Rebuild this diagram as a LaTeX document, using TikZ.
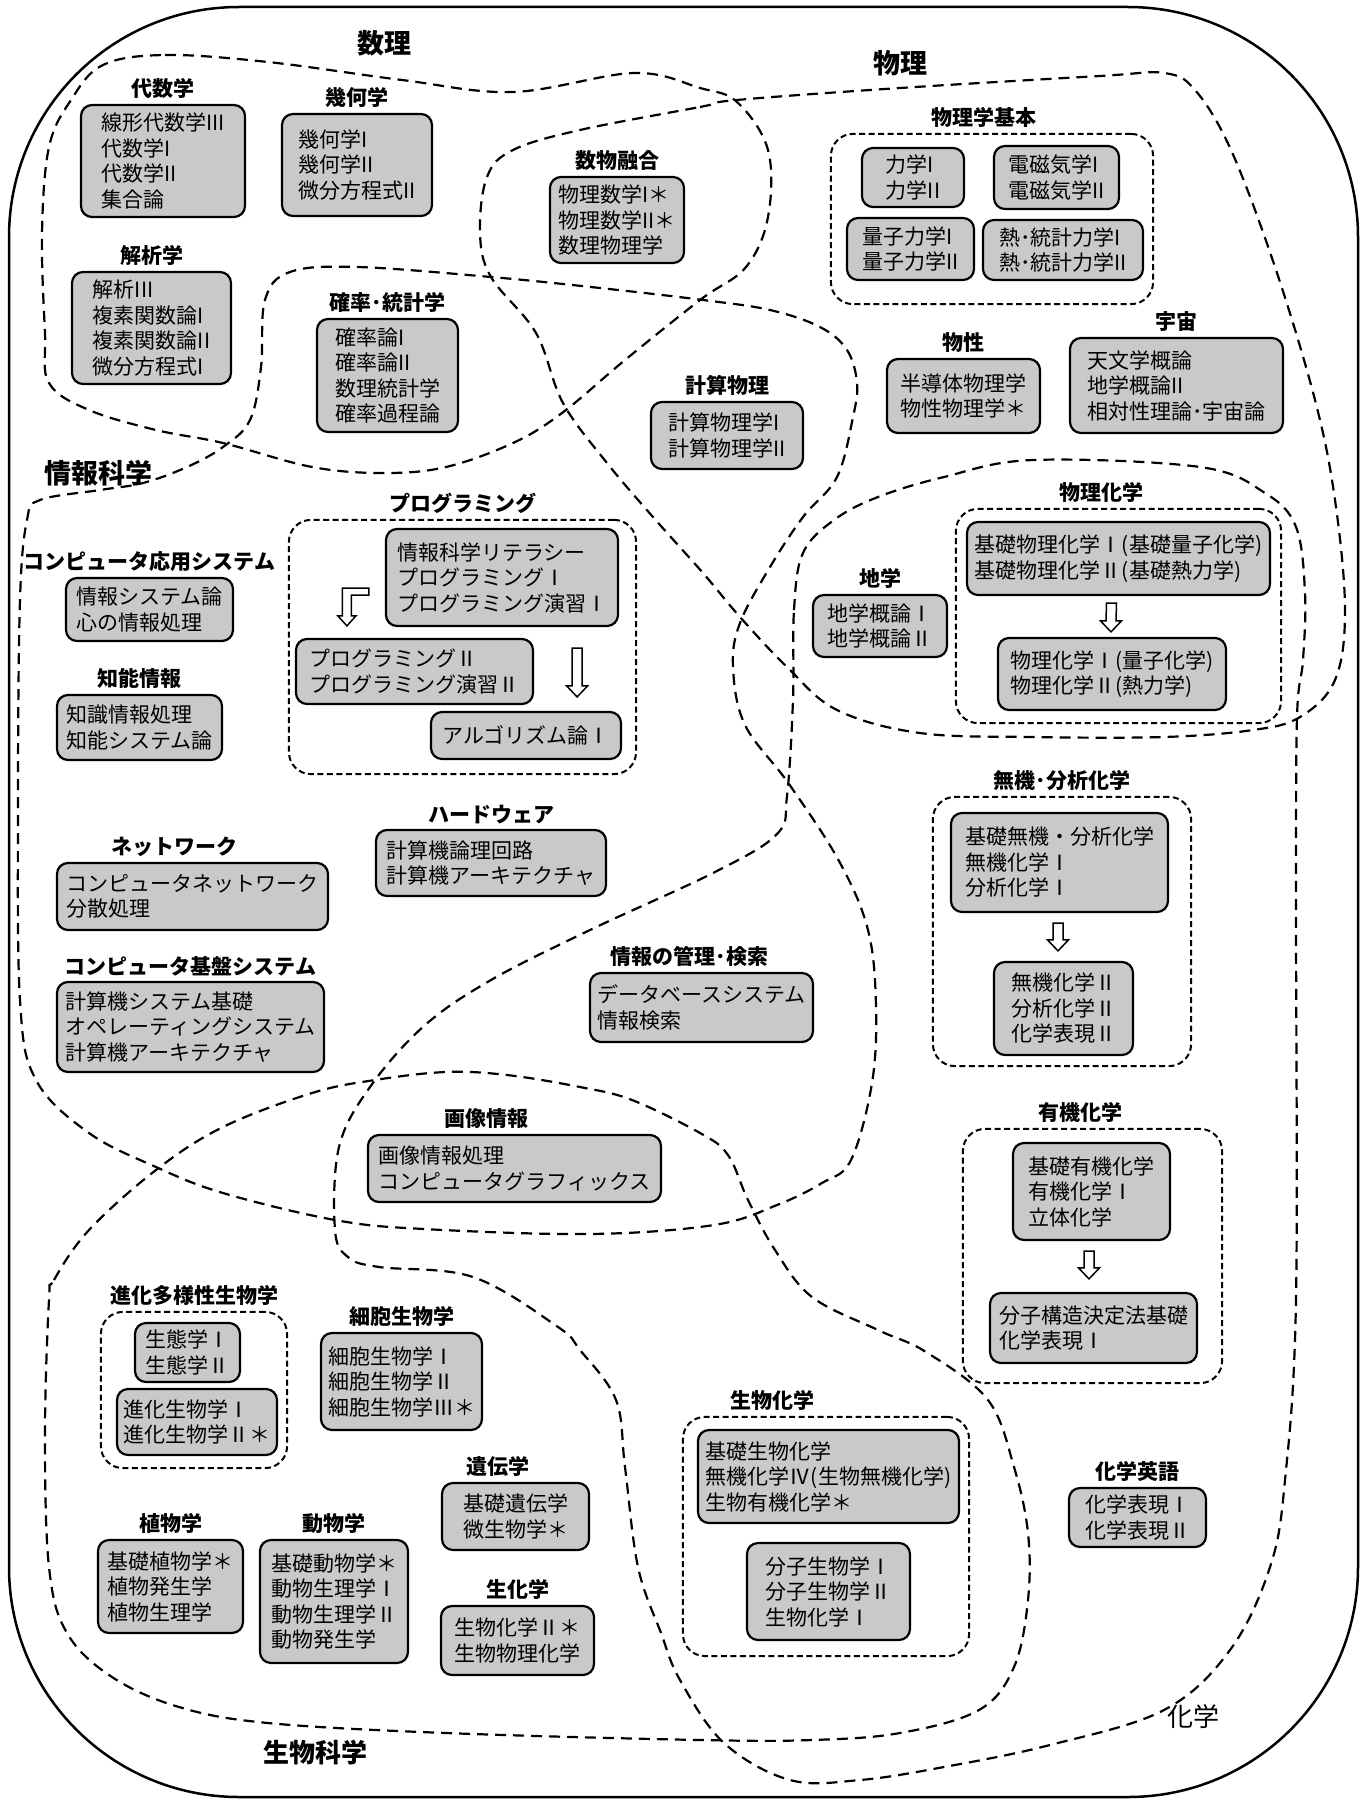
\documentclass[tikz,border=0pt]{standalone}
\usepackage{fontspec}
\setmainfont{Noto Sans CJK JP}
\usetikzlibrary{positioning, fit, backgrounds, calc}
\definecolor{boxgray}{RGB}{200, 201, 203}

\begin{document}
\begin{tikzpicture}[
    x=1pt, y=-1pt,
    label distance=5pt,
    coursebox/.style={
        draw=black, line width=2.2pt, fill=boxgray, rounded corners=11pt,
        align=left, inner sep=4pt,
        font=\fontsize{21}{25.5}\selectfont
    },
    catlabel/.style={font=\fontsize{21}{24}\selectfont\bfseries, inner sep=0pt},
    fieldlabel/.style={font=\fontsize{27}{30}\selectfont\bfseries, inner sep=0pt},
    groupbox/.style={draw=black, line width=2pt, dash pattern=on 6pt off 3.5pt, rounded corners=22pt},
    region/.style={draw=black, line width=2.2pt, dash pattern=on 11pt off 7pt},
    hollowdown/.style={
        draw=black, fill=white, line width=1.5pt,
        to path={($(\tikztostart)+(-5,0)$) -- ($(\tikztotarget)+(-5,-11)$) -- ($(\tikztotarget)+(-10.5,-11)$)
            -- (\tikztotarget) -- ($(\tikztotarget)+(10.5,-11)$) -- ($(\tikztotarget)+(5,-11)$)
            -- ($(\tikztostart)+(5,0)$) -- cycle}
    },
    hollowbend/.style={
        draw=black, fill=white, line width=1.5pt,
        to path={($(\tikztostart)+(0,-3.5)$) -- ($(\tikztotarget |- \tikztostart)+(-4.5,-3.5)$)
            -- ($(\tikztotarget)+(-4.5,-10)$) -- ($(\tikztotarget)+(-9,-10)$) -- (\tikztotarget)
            -- ($(\tikztotarget)+(9,-10)$) -- ($(\tikztotarget)+(4.5,-10)$)
            -- ($(\tikztotarget |- \tikztostart)+(4.5,3.5)$) -- ($(\tikztostart)+(0,3.5)$) -- cycle}
    }
]
\useasboundingbox (0,0) rectangle (1364,1801);

% OUTER FRAME
\draw[line width=2.5pt, rounded corners=230pt] (9,7) rectangle (1358,1797);

% FIELD REGIONS
\draw[region] plot[smooth cycle, tension=0.6] coordinates {
    (103,65) (165,55) (268,62) (402,80) (513,92) (634,73) (700,88) (737,102) (768,150) (768,217)
    (746,267) (700,300) (625,360) (562,413) (513,443) (446,467) (384,473) (312,467) (223,443)
    (156,430) (89,410) (49,383) (45,333) (42,233) (49,147) (71,100)};
\draw[region] plot[smooth cycle, tension=0.6] coordinates {
    (580,130) (700,107) (737,100) (900,88) (1100,76) (1164,73) (1195,90) (1231,150) (1275,267)
    (1315,400) (1335,500) (1345,610) (1335,680) (1300,717) (1253,730) (1164,737) (1032,737)
    (920,733) (837,710) (787,667) (740,617) (703,573) (653,517) (607,463) (563,403) (536,333)
    (491,277) (480,233) (487,177) (513,150)};
\draw[region] plot[smooth cycle, tension=0.6] coordinates {
    (20,600) (27,520) (40,500) (100,490) (143,483) (187,467) (223,447) (250,420) (261,367)
    (265,300) (290,272) (357,267) (491,277) (600,288) (703,300) (770,310) (820,327) (847,350)
    (857,383) (853,417) (837,477) (803,517) (770,567) (740,623) (733,667) (745,725) (789,784)
    (839,861) (868,930) (876,1006) (872,1083) (851,1160) (822,1183) (777,1205) (714,1225)
    (590,1234) (424,1229) (335,1220) (223,1193) (156,1167) (89,1133) (36,1080) (20,1000) (18,800)};
\draw[region] plot[smooth cycle, tension=0.6] coordinates {
    (793,700) (794,610) (803,553) (834,520) (878,497) (944,477) (1033,460) (1200,467) (1265,493)
    (1296,527) (1305,593) (1303,660) (1297,717) (1296,900) (1296,1300) (1285,1480) (1270,1567)
    (1230,1650) (1164,1710) (1050,1745) (944,1767) (860,1780) (790,1780) (724,1743) (680,1680)
    (661,1633) (638,1567) (625,1467) (616,1400) (580,1350) (558,1327) (473,1277) (379,1267)
    (348,1257) (335,1230) (339,1147) (370,1087) (424,1026) (491,980) (590,930) (715,872)
    (777,834) (787,796)};
\draw[region] plot[smooth cycle, tension=0.6] coordinates {
    (49,1300) (54,1280) (89,1230) (156,1170) (223,1127) (312,1093) (375,1080) (446,1072)
    (507,1075) (580,1087) (632,1100) (700,1133) (728,1155) (748,1200) (775,1250) (812,1297)
    (878,1330) (926,1352) (988,1400) (1014,1467) (1028,1533) (1028,1600) (1014,1667) (979,1710)
    (900,1733) (812,1740) (700,1740) (446,1733) (268,1723) (179,1707) (112,1677) (67,1633)
    (49,1567) (45,1433)};

% FIELD LABELS
\node[fieldlabel] at (384,43) (mathlbl) {数理};
\node[fieldlabel] at (900,63) (physlbl) {物理};
\node[fieldlabel] at (98,473) (infolbl) {情報科学};
\node[fieldlabel, font=\fontsize{26}{30}\selectfont\bfseries] at (315,1753) (biolbl) {生物科学};
\node[fieldlabel, font=\fontsize{26}{30}\selectfont] at (1193,1717) (chemlbl) {化学};

% MATH BOXES
\node[coursebox, minimum width=164pt, minimum height=112pt, label={[catlabel]above:代数学}] at (163,161) (algbox) {
    線形代数学III\\代数学I\\代数学II\\集合論};
\node[coursebox, minimum width=150pt, minimum height=102pt, label={[catlabel]above:幾何学}] at (357,165) (geombox) {
    幾何学I\\幾何学II\\微分方程式II};
\node[coursebox, minimum width=134pt, minimum height=86pt, label={[catlabel]above:数物融合}] at (617,220) (fusebox) {
    物理数学I＊\\物理数学II＊\\数理物理学};
\node[coursebox, minimum width=159pt, minimum height=112pt, label={[catlabel]above:解析学}] at (151.5,328) (anabox) {
    解析III\\複素関数論I\\複素関数論II\\微分方程式I};
\node[coursebox, minimum width=141pt, minimum height=113pt, label={[catlabel]above:確率･統計学}] at (387.5,375.5) (probbox) {
    確率論I\\確率論II\\数理統計学\\確率過程論};

% PHYSICS BOXES
\node[coursebox, minimum width=102pt, minimum height=59pt] at (913,177.5) (mechbox) {力学I\\力学II};
\node[coursebox, minimum width=125pt, minimum height=63pt] at (1056.5,177.5) (embox) {電磁気学I\\電磁気学II};
\node[coursebox, minimum width=127pt, minimum height=62pt] at (910.5,249) (qmbox) {量子力学I\\量子力学II};
\node[coursebox, minimum width=160pt, minimum height=60pt] at (1063,250) (thermbox) {熱･統計力学I\\熱･統計力学II};
\node[coursebox, minimum width=213pt, minimum height=95pt, label={[catlabel]above:宇宙}] at (1176.5,385.5) (cosmobox) {
    天文学概論\\地学概論II\\相対性理論･宇宙論};
\node[coursebox, minimum width=153pt, minimum height=74pt, label={[catlabel]above:物性}] at (963.5,396) (condbox) {
    半導体物理学\\物性物理学＊};
\node[coursebox, minimum width=152pt, minimum height=67pt, label={[catlabel]above:計算物理}] at (727,435.5) (compbox) {
    計算物理学I\\計算物理学II};

% INFORMATICS BOXES
\node[coursebox, minimum width=232pt, minimum height=97pt] at (502,577.5) (pg1) {
    情報科学リテラシー\\プログラミングⅠ\\プログラミング演習Ⅰ};
\node[coursebox, minimum width=237pt, minimum height=65pt] at (414.5,671.5) (pg2) {
    プログラミングⅡ\\プログラミング演習Ⅱ};
\node[coursebox, minimum width=190pt, minimum height=47pt] at (526,735.5) (pg3) {アルゴリズム論Ⅰ};
\node[coursebox, minimum width=167pt, minimum height=63pt, label={[catlabel]above:コンピュータ応用システム}] at (149.5,609.5) (appbox) {
    情報システム論\\心の情報処理};
\node[coursebox, minimum width=165pt, minimum height=65pt, label={[catlabel]above:知能情報}] at (139.5,727.5) (aibox) {
    知識情報処理\\知能システム論};
\node[coursebox, minimum width=230pt, minimum height=66pt, label={[catlabel]above:ハードウェア}] at (491,863) (hwbox) {
    計算機論理回路\\計算機アーキテクチャ};
\node[coursebox, minimum width=271pt, minimum height=67pt, label={[catlabel, xshift=-18pt]above:ネットワーク}] at (192.5,896.5) (netbox) {
    コンピュータネットワーク\\分散処理};
\node[coursebox, minimum width=267pt, minimum height=90pt, label={[catlabel]above:コンピュータ基盤システム}] at (190.5,1027) (sysbox) {
    計算機システム基礎\\オペレーティングシステム\\計算機アーキテクチャ};
\node[coursebox, minimum width=223pt, minimum height=69pt, label={[catlabel, xshift=-12pt]above:情報の管理･検索}] at (701.5,1007.5) (dbbox) {
    データベースシステム\\情報検索};
\node[coursebox, minimum width=293pt, minimum height=67pt, label={[catlabel, xshift=-28pt]above:画像情報}] at (514.5,1168.5) (imgbox) {
    画像情報処理\\コンピュータグラフィックス};

% CHEMISTRY BOXES
\node[coursebox, minimum width=303pt, minimum height=73pt] at (1118.5,558.5) (pc1) {
    基礎物理化学Ⅰ(基礎量子化学)\\基礎物理化学Ⅱ(基礎熱力学)};
\node[coursebox, minimum width=228pt, minimum height=72pt] at (1112,674) (pc2) {
    物理化学Ⅰ(量子化学)\\物理化学Ⅱ(熱力学)};
\node[coursebox, minimum width=134pt, minimum height=62pt, label={[catlabel]above:地学}] at (880,626) (earthbox) {
    地学概論Ⅰ\\地学概論Ⅱ};
\node[coursebox, minimum width=217pt, minimum height=99pt] at (1059.5,862.5) (in1) {
    基礎無機・分析化学\\無機化学Ⅰ\\分析化学Ⅰ};
\node[coursebox, minimum width=139pt, minimum height=93pt] at (1063.5,1008.5) (in2) {
    無機化学Ⅱ\\分析化学Ⅱ\\化学表現Ⅱ};
\node[coursebox, minimum width=157pt, minimum height=97pt] at (1091.5,1191.5) (or1) {
    基礎有機化学\\有機化学Ⅰ\\立体化学};
\node[coursebox, minimum width=207pt, minimum height=70pt] at (1093.5,1328) (or2) {
    分子構造決定法基礎\\化学表現Ⅰ};
\node[coursebox, minimum width=261pt, minimum height=93pt] at (828.5,1476.5) (bc1) {
    基礎生物化学\\無機化学Ⅳ(生物無機化学)\\生物有機化学＊};
\node[coursebox, minimum width=163pt, minimum height=97pt] at (828.5,1591.5) (bc2) {
    分子生物学Ⅰ\\分子生物学Ⅱ\\生物化学Ⅰ};
\node[coursebox, minimum width=137pt, minimum height=59pt, label={[catlabel]above:化学英語}] at (1137.5,1517.5) (engbox) {
    化学表現Ⅰ\\化学表現Ⅱ};

% BIOLOGY BOXES
\node[coursebox, minimum width=105pt, minimum height=59pt] at (187.5,1352.5) (ev1) {生態学Ⅰ\\生態学Ⅱ};
\node[coursebox, minimum width=160pt, minimum height=66pt] at (197,1422) (ev2) {進化生物学Ⅰ\\進化生物学Ⅱ＊};
\node[coursebox, minimum width=161pt, minimum height=97pt, label={[catlabel]above:細胞生物学}] at (401.5,1381.5) (cellbox) {
    細胞生物学Ⅰ\\細胞生物学Ⅱ\\細胞生物学Ⅲ＊};
\node[coursebox, minimum width=147pt, minimum height=67pt, label={[catlabel, xshift=-18pt]above:遺伝学}] at (515.5,1516.5) (genbox) {
    基礎遺伝学\\微生物学＊};
\node[coursebox, minimum width=145pt, minimum height=93pt, label={[catlabel]above:植物学}] at (170.5,1586.5) (plantbox) {
    基礎植物学＊\\植物発生学\\植物生理学};
\node[coursebox, minimum width=148pt, minimum height=123pt, label={[catlabel]above:動物学}] at (334,1601.5) (animbox) {
    基礎動物学＊\\動物生理学Ⅰ\\動物生理学Ⅱ\\動物発生学};
\node[coursebox, minimum width=153pt, minimum height=69pt, label={[catlabel]above:生化学}] at (517.5,1640.5) (bchbox) {
    生物化学Ⅱ＊\\生物物理化学};

% HOLLOW ARROWS
\coordinate (bendS) at ($(pg1.west)+(-16,14)$);
\coordinate (bendT) at ($(pg2.north west)+(52,-12)$);
\draw[hollowbend] (bendS) to (bendT);
\draw[hollowdown] ($(pg1.south east)+(-42,21)$) to ($(pg3.north east)+(-45,-14)$);
\draw[hollowdown] ($(pc1.south)+(-7,7)$) to ($(pc2.north)+(-1,-5)$);
\draw[hollowdown] ($(in1.south)+(-1.5,10)$) to ($(in2.north)+(-5.5,-10)$);
\draw[hollowdown] ($(or1.south)+(-2.5,10)$) to ($(or2.north)+(-4.5,-13)$);

% DASHED GROUPS
\begin{scope}[on background layer]
    \node[groupbox, fit=(mechbox)(embox)(qmbox)(thermbox), inner xsep=12pt, inner ysep=17pt, xshift=-3pt, yshift=-6pt,
        label={[catlabel, xshift=-8pt]above:物理学基本}] (basicgrp) {};
    \node[groupbox, fit=(pg1)(pg2)(pg3), inner xsep=10pt, inner ysep=11pt, xshift=4pt, yshift=-3pt,
        label={[catlabel]above:プログラミング}] (proggrp) {};
    \node[groupbox, fit=(pc1)(pc2), inner xsep=10pt, inner ysep=12pt,
        label={[catlabel, xshift=-17pt]above:物理化学}] (pchemgrp) {};
    \node[groupbox, fit=(in1)(in2), inner xsep=19.5pt, inner ysep=12.5pt, xshift=2.5pt, yshift=2.5pt,
        label={[catlabel]above:無機･分析化学}] (inorggrp) {};
    \node[groupbox, fit=(or1)(or2), inner xsep=25pt, inner ysep=16pt, xshift=-1pt, yshift=-3pt,
        label={[catlabel, xshift=-12pt]above:有機化学}] (orggrp) {};
    \node[groupbox, fit=(bc1)(bc2), inner xsep=11.5pt, inner ysep=13.5pt, xshift=-2.5pt, yshift=-1.5pt,
        label={[catlabel, xshift=-54pt]above:生物化学}] (biochemgrp) {};
    \node[groupbox, fit=(ev1)(ev2), inner xsep=12pt, inner ysep=11pt, xshift=-3pt, yshift=-1pt,
        label={[catlabel]above:進化多様性生物学}] (evolgrp) {};
\end{scope}

\end{tikzpicture}
\end{document}
